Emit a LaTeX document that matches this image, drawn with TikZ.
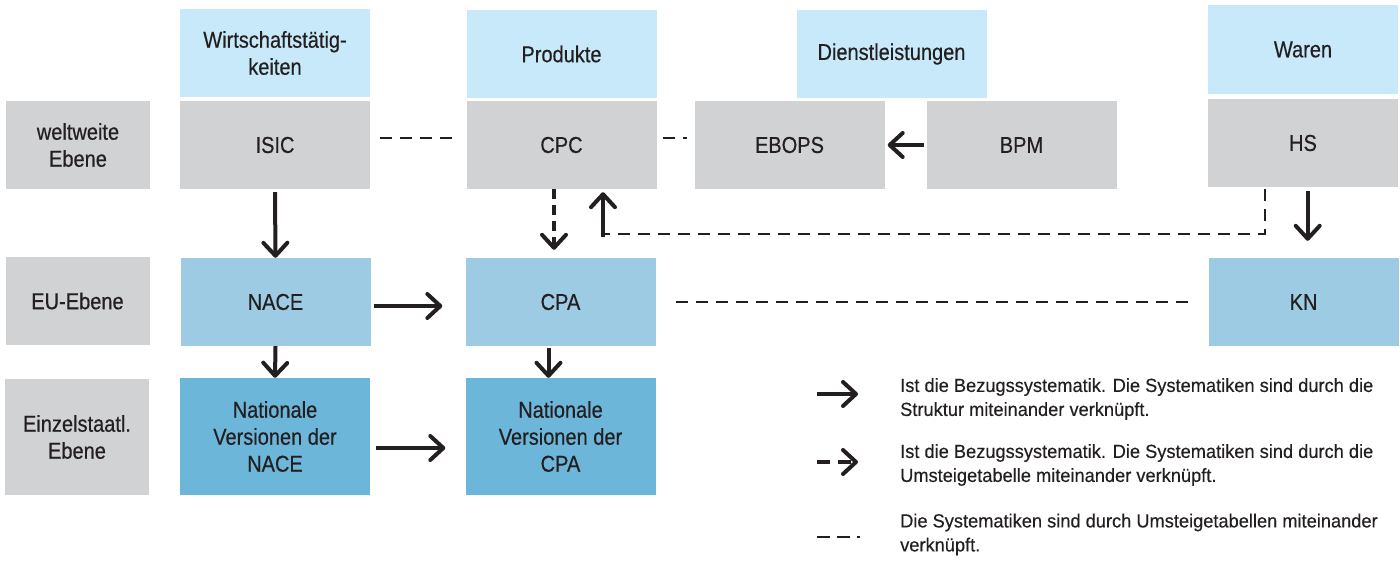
\documentclass[tikz,border=0pt]{standalone}
\usepackage{fontspec}
\setmainfont[FakeStretch=0.87,FakeBold=0.4]{Liberation Sans}
\newfontfamily\legfont[FakeStretch=0.96,FakeBold=0.3]{Liberation Sans}
\usetikzlibrary{arrows.meta}
\definecolor{hdrc}{HTML}{C8E9F9}
\definecolor{gryc}{HTML}{D1D2D4}
\definecolor{euc}{HTML}{9DCBE3}
\definecolor{natc}{HTML}{6CB6D9}
\definecolor{ink}{HTML}{231F20}
\begin{document}
\begin{tikzpicture}[x=1pt,y=-1pt,
  bx/.style={inner sep=0pt, align=center, font=\fontsize{23}{27}\selectfont, text=ink, minimum width=190pt, minimum height=88pt},
  hdrbox/.style={bx, fill=hdrc},
  grybox/.style={bx, fill=gryc},
  eubox/.style={bx, fill=euc},
  natbox/.style={bx, fill=natc, minimum height=117pt},
  lvlbox/.style={bx, fill=gryc, minimum width=144pt},
  legtext/.style={anchor=west, align=left, inner sep=0pt, text=ink, font=\legfont\fontsize{19}{24}\selectfont},
  arr/.style={draw=ink, line width=4pt, -{Straight Barb[length=13pt,width=24pt,round]}},
  darr/.style={arr, dash pattern=on 10pt off 6pt},
  dsh/.style={draw=ink, line width=2.5pt, dash pattern=on 12pt off 8pt}]
\useasboundingbox (0,0) rectangle (1400,561);
% headers
\node[hdrbox] (hW) at (275,53) {Wirtschaftstätig-\\keiten};
\node[hdrbox] (hP) at (561.5,54) {Produkte};
\node[hdrbox] (hD) at (891.5,54) {Dienstleistungen};
\node[hdrbox, minimum width=190pt, minimum height=89pt] (hWa) at (1303,49.5) {Waren};
% world level
\node[lvlbox] (lW) at (78,145) {weltweite\\Ebene};
\node[grybox] (ISIC) at (275,145) {ISIC};
\node[grybox] (CPC) at (561.5,145) {CPC};
\node[grybox] (EBOPS) at (789.5,145) {EBOPS};
\node[grybox] (BPM) at (1021.5,145) {BPM};
\node[grybox] (HS) at (1303,143) {HS};
% EU level
\node[lvlbox] (lEU) at (77.5,301) {EU-Ebene};
\node[eubox] (NACE) at (275.5,302) {NACE};
\node[eubox] (CPA) at (560.5,302) {CPA};
\node[eubox] (KN) at (1303.5,302) {KN};
% national level
\node[lvlbox, minimum height=116pt] (lEin) at (77,437) {Einzelstaatl.\\Ebene};
\node[natbox] (NNACE) at (275,436.5) {Nationale\\Versionen der\\NACE};
\node[natbox] (NCPA) at (560.5,436.5) {Nationale\\Versionen der\\CPA};
% connectors
\draw[arr] ([yshift=-3pt]ISIC.south) -- (NACE.north);
\draw[dsh] ([xshift=10pt,yshift=7pt]ISIC.east) -- ([xshift=-10pt,yshift=7pt]CPC.west);
\draw[dsh] ([xshift=6pt,yshift=7pt]CPC.east) -- ([xshift=-7pt,yshift=7pt]EBOPS.west);
\draw[arr] ([xshift=-2pt]BPM.west) -- ([xshift=3pt]EBOPS.east);
\draw[darr] ([xshift=-7.5pt]CPC.south) -- ([xshift=-6.5pt,yshift=8pt]CPA.north);
\coordinate (hub) at (603,234);
\draw[dsh] ([xshift=-38pt,yshift=-2pt]HS.south) |- (hub);
\draw[arr] ([yshift=-3pt]hub) -- ([yshift=-3pt]CPC.south -| hub);
\draw[arr] ([xshift=4.7pt,yshift=-4pt]HS.south) -- ([xshift=4.2pt,yshift=17pt]KN.north);
\draw[arr] ([xshift=3pt,yshift=-4pt]NACE.east) -- ([xshift=-23pt,yshift=-4pt]CPA.west);
\draw[dsh] ([xshift=20pt]CPA.east) -- ([xshift=-19pt]KN.west);
\draw[arr] (NACE.south) -- (NNACE.north);
\draw[arr] ([xshift=-12pt,yshift=-2pt]CPA.south) -- ([xshift=-12pt]NCPA.north);
\draw[arr] ([xshift=6pt,yshift=-11.5pt]NNACE.east) -- ([xshift=-20pt,yshift=-11.5pt]NCPA.west);
% legend
\coordinate (l1a) at (817,394); \coordinate (l1b) at (858,394);
\coordinate (l2a) at (817,462); \coordinate (l2b) at (858,462);
\coordinate (l3a) at (817,537); \coordinate (l3b) at (860,537);
\draw[arr] (l1a) -- (l1b);
\draw[arr, dash pattern=on 13pt off 8pt] (l2a) -- (l2b);
\draw[dsh, dash pattern=on 13pt off 7pt] (l3a) -- (l3b);
\node[legtext] (t1) at (900,399) {Ist die Bezugssystematik. Die Systematiken sind durch die\\Struktur miteinander verknüpft.};
\node[legtext] (t2) at (900,465) {Ist die Bezugssystematik. Die Systematiken sind durch die\\Umsteigetabelle miteinander verknüpft.};
\node[legtext] (t3) at (900,534.5) {Die Systematiken sind durch Umsteigetabellen miteinander\\verknüpft.};
\end{tikzpicture}
\end{document}
